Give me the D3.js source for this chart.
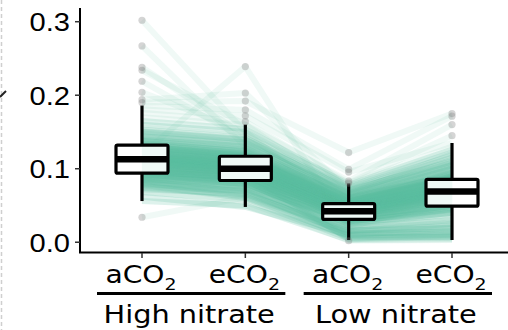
<!DOCTYPE html>
<html>
<head>
<meta charset="utf-8">
<script src="https://cdn.jsdelivr.net/npm/d3@7"></script>
<style>
  body { margin: 0; background: #fff; }
  svg { display: block; }
</style>
</head>
<body>
<svg id="chart" width="508" height="330"></svg>
<script>
// categories
const treatments = ["High_aCO2", "High_eCO2", "Low_aCO2", "Low_eCO2"];
const co2Labels = ["aCO", "eCO", "aCO", "eCO"];
const nitrateGroups = ["High nitrate", "Low nitrate"];
const nitrateMembers = [[0, 1], [2, 3]];
const yTicks = [0.0, 0.1, 0.2, 0.3];

// box stats
const whiskerLo = [0.056, 0.048, 0.003, 0.003];
const q1 = [0.094, 0.084, 0.031, 0.049];
const median = [0.113, 0.100, 0.042, 0.069];
const q3 = [0.132, 0.117, 0.0525, 0.0855];
const whiskerHi = [0.186, 0.160, 0.080, 0.135];
const outliers = [
  [0.034, 0.190, 0.194, 0.204, 0.219, 0.234, 0.238, 0.267, 0.302],
  [0.164, 0.172, 0.180, 0.192, 0.203, 0.239],
  [0.002, 0.0805, 0.083, 0.0955, 0.099, 0.122],
  [0.145, 0.160, 0.1715, 0.175]
];

// one row per sample: [High aCO2, High eCO2, Low aCO2, Low eCO2]
const samples = [
  [0.034, 0.061, 0.020, 0.030], [0.056, 0.050, 0.003, 0.004], [0.062, 0.048, 0.010, 0.012],
  [0.068, 0.058, 0.005, 0.008], [0.072, 0.066, 0.014, 0.020], [0.075, 0.070, 0.018, 0.026],
  [0.078, 0.062, 0.008, 0.006], [0.080, 0.074, 0.022, 0.034], [0.082, 0.072, 0.026, 0.040],
  [0.084, 0.068, 0.012, 0.015], [0.085, 0.078, 0.028, 0.045], [0.086, 0.080, 0.024, 0.038],
  [0.087, 0.076, 0.030, 0.050], [0.088, 0.083, 0.029, 0.042], [0.089, 0.082, 0.032, 0.055],
  [0.090, 0.085, 0.016, 0.022], [0.091, 0.081, 0.031, 0.047], [0.092, 0.086, 0.034, 0.052],
  [0.093, 0.079, 0.027, 0.044], [0.094, 0.088, 0.033, 0.058], [0.094, 0.084, 0.035, 0.049],
  [0.095, 0.090, 0.030, 0.048], [0.096, 0.087, 0.036, 0.060], [0.097, 0.089, 0.037, 0.054],
  [0.098, 0.092, 0.035, 0.062], [0.099, 0.091, 0.038, 0.057], [0.100, 0.093, 0.039, 0.063],
  [0.101, 0.094, 0.034, 0.059], [0.102, 0.095, 0.040, 0.065], [0.103, 0.096, 0.041, 0.066],
  [0.104, 0.094, 0.038, 0.061], [0.105, 0.098, 0.042, 0.068], [0.106, 0.097, 0.043, 0.070],
  [0.106, 0.099, 0.041, 0.064], [0.107, 0.100, 0.044, 0.071], [0.108, 0.101, 0.042, 0.069],
  [0.109, 0.099, 0.045, 0.072], [0.110, 0.102, 0.043, 0.067], [0.110, 0.103, 0.046, 0.074],
  [0.111, 0.100, 0.044, 0.070], [0.112, 0.104, 0.047, 0.073], [0.112, 0.105, 0.045, 0.075],
  [0.113, 0.101, 0.048, 0.076], [0.113, 0.106, 0.046, 0.071], [0.114, 0.107, 0.049, 0.077],
  [0.115, 0.103, 0.047, 0.078], [0.115, 0.108, 0.050, 0.079], [0.116, 0.109, 0.048, 0.074],
  [0.117, 0.106, 0.051, 0.080], [0.118, 0.110, 0.049, 0.081], [0.119, 0.111, 0.052, 0.082],
  [0.120, 0.108, 0.050, 0.078], [0.120, 0.239, 0.020, 0.060], [0.121, 0.112, 0.053, 0.083],
  [0.122, 0.113, 0.051, 0.084], [0.123, 0.114, 0.054, 0.085], [0.124, 0.112, 0.052, 0.086],
  [0.125, 0.115, 0.055, 0.087], [0.126, 0.116, 0.053, 0.088], [0.127, 0.117, 0.056, 0.089],
  [0.128, 0.118, 0.054, 0.090], [0.129, 0.119, 0.057, 0.086], [0.130, 0.120, 0.058, 0.092],
  [0.131, 0.117, 0.055, 0.094], [0.132, 0.122, 0.059, 0.095], [0.132, 0.121, 0.060, 0.091],
  [0.134, 0.124, 0.061, 0.097], [0.136, 0.123, 0.062, 0.099], [0.138, 0.126, 0.064, 0.102],
  [0.140, 0.128, 0.063, 0.100], [0.142, 0.130, 0.066, 0.105], [0.145, 0.133, 0.068, 0.108],
  [0.148, 0.136, 0.070, 0.112], [0.150, 0.139, 0.072, 0.115], [0.153, 0.142, 0.074, 0.118],
  [0.156, 0.145, 0.0805, 0.145], [0.160, 0.150, 0.076, 0.122], [0.165, 0.154, 0.078, 0.126],
  [0.170, 0.160, 0.083, 0.160], [0.176, 0.164, 0.080, 0.130], [0.181, 0.172, 0.0955, 0.135],
  [0.186, 0.180, 0.099, 0.1715], [0.190, 0.192, 0.122, 0.175], [0.194, 0.203, 0.070, 0.110],
  [0.204, 0.150, 0.060, 0.095], [0.219, 0.140, 0.058, 0.100], [0.234, 0.160, 0.066, 0.120],
  [0.238, 0.145, 0.062, 0.090], [0.267, 0.130, 0.050, 0.080], [0.302, 0.150, 0.040, 0.070],
  [0.070, 0.055, 0.002, 0.003],
  [0.096, 0.088, 0.038, 0.062], [0.099, 0.090, 0.036, 0.058], [0.101, 0.092, 0.040, 0.064],
  [0.103, 0.095, 0.037, 0.060], [0.104, 0.097, 0.042, 0.066], [0.105, 0.094, 0.039, 0.063],
  [0.107, 0.098, 0.043, 0.069], [0.108, 0.100, 0.041, 0.067], [0.109, 0.102, 0.044, 0.070],
  [0.111, 0.101, 0.046, 0.072], [0.112, 0.103, 0.043, 0.068], [0.114, 0.104, 0.047, 0.073],
  [0.115, 0.106, 0.045, 0.071], [0.116, 0.105, 0.048, 0.075], [0.117, 0.108, 0.049, 0.076],
  [0.118, 0.107, 0.046, 0.074], [0.119, 0.109, 0.050, 0.078], [0.121, 0.110, 0.051, 0.080],
  [0.122, 0.111, 0.049, 0.077], [0.124, 0.113, 0.052, 0.082], [0.126, 0.114, 0.053, 0.084],
  [0.128, 0.116, 0.055, 0.086], [0.130, 0.118, 0.056, 0.088], [0.100, 0.089, 0.033, 0.052],
  [0.098, 0.086, 0.031, 0.050], [0.092, 0.083, 0.028, 0.046], [0.088, 0.080, 0.025, 0.040],
  [0.134, 0.120, 0.058, 0.090], [0.137, 0.125, 0.060, 0.093], [0.085, 0.075, 0.020, 0.030],
  [0.083, 0.073, 0.015, 0.025], [0.079, 0.070, 0.010, 0.018], [0.095, 0.085, 0.006, 0.010],
  [0.110, 0.095, 0.004, 0.007],
  [0.144, 0.135, 0.065, 0.104], [0.151, 0.140, 0.071, 0.110], [0.139, 0.131, 0.067, 0.106],
  [0.074, 0.064, 0.012, 0.014], [0.081, 0.066, 0.016, 0.019], [0.077, 0.060, 0.009, 0.011]
];

const svg = d3.select("#chart");
const x = d3.scalePoint().domain(treatments).range([80, 514]).padding(0.6);
const y = d3.scaleLinear().domain([-0.0133, 0.3173]).range([252, 9]);
const boxW = 52;
const stretch = 1.12;

// bits of the neighbouring panel cut off at the left edge
svg.append("line")
  .attr("x1", 1.5).attr("x2", 1.5).attr("y1", 0).attr("y2", 330)
  .style("stroke", "#cfcfcf").style("stroke-width", 1.5).style("stroke-dasharray", "4,3");
svg.append("line")
  .attr("x1", 0).attr("y1", 97).attr("x2", 6).attr("y2", 91)
  .style("stroke", "#222").style("stroke-width", 2);

// a sample that is an outlier somewhere is a lone line, draw it fainter
const isOutlierRow = row => row.some((v, i) => v < whiskerLo[i] || v > whiskerHi[i]);

// spaghetti lines
const line = d3.line().x((d, i) => x(treatments[i])).y(d => y(d));
svg.append("g").attr("id", "sampleLines")
  .selectAll("path")
  .data(samples)
  .enter().append("path")
  .attr("d", line)
  .style("fill", "none")
  .style("stroke", "#5cbf9e")
  .style("stroke-opacity", d => isOutlierRow(d) ? 0.09 : 0.2)
  .style("stroke-width", 6)
  .style("stroke-linejoin", "round");

// boxes
const boxes = svg.append("g").selectAll("g")
  .data(treatments)
  .enter().append("g")
  .attr("transform", d => "translate(" + x(d) + ",0)");

boxes.append("line")
  .attr("y1", (d, i) => y(whiskerLo[i])).attr("y2", (d, i) => y(q1[i]))
  .style("stroke", "#000").style("stroke-width", 3.2);
boxes.append("line")
  .attr("y1", (d, i) => y(q3[i])).attr("y2", (d, i) => y(whiskerHi[i]))
  .style("stroke", "#000").style("stroke-width", 3.2);
boxes.append("rect")
  .attr("x", -boxW / 2).attr("width", boxW)
  .attr("y", (d, i) => y(q3[i]))
  .attr("height", (d, i) => y(q1[i]) - y(q3[i]))
  .attr("rx", 1.5)
  .style("fill", "#fff").style("fill-opacity", 0.9)
  .style("stroke", "#000").style("stroke-width", 3.2)
  .style("stroke-linejoin", "round");
boxes.append("line")
  .attr("x1", -boxW / 2).attr("x2", boxW / 2)
  .attr("y1", (d, i) => y(median[i])).attr("y2", (d, i) => y(median[i]))
  .style("stroke", "#000").style("stroke-width", 6.5);

// outlier points
boxes.selectAll("circle")
  .data((d, i) => outliers[i])
  .enter().append("circle")
  .attr("cy", d => y(d))
  .attr("r", 3.6)
  .style("fill", "#808080").style("fill-opacity", 0.33);

// axes
const axisG = svg.append("g");
axisG.append("line")
  .attr("x1", 80).attr("x2", 80).attr("y1", 8).attr("y2", 253)
  .style("stroke", "#000").style("stroke-width", 2);
axisG.append("line")
  .attr("x1", 79).attr("x2", 508).attr("y1", 252.5).attr("y2", 252.5)
  .style("stroke", "#000").style("stroke-width", 2);

axisG.selectAll(".ytick")
  .data(yTicks)
  .enter().append("line")
  .attr("class", "ytick")
  .attr("x1", 75).attr("x2", 80)
  .attr("y1", d => y(d)).attr("y2", d => y(d))
  .style("stroke", "#333").style("stroke-width", 1.5);

axisG.selectAll(".ylab")
  .data(yTicks)
  .enter().append("text")
  .attr("class", "ylab")
  .attr("transform", d => "translate(70," + (y(d) + 9.5) + ") scale(" + stretch + ",1)")
  .attr("text-anchor", "end")
  .style("font-family", "'Liberation Sans', Arial, sans-serif")
  .style("font-size", "26px")
  .style("fill", "#000")
  .text(d => d3.format(".1f")(d));

axisG.selectAll(".xtick")
  .data(treatments)
  .enter().append("line")
  .attr("class", "xtick")
  .attr("x1", d => x(d)).attr("x2", d => x(d))
  .attr("y1", 253).attr("y2", 258)
  .style("stroke", "#333").style("stroke-width", 1.5);

const xlab = axisG.selectAll(".xlab")
  .data(treatments)
  .enter().append("text")
  .attr("class", "xlab")
  .attr("transform", d => "translate(" + (x(d) - 1) + ",282.5) scale(1.15,1)")
  .attr("text-anchor", "middle")
  .style("font-family", "'DejaVu Sans', sans-serif")
  .style("font-size", "24.5px")
  .style("fill", "#000");
xlab.append("tspan").text((d, i) => co2Labels[i]);
xlab.append("tspan").attr("dy", 7.5).style("font-size", "16.5px").text("2");

// nitrate brackets
const groups = svg.append("g").selectAll("g")
  .data(nitrateGroups)
  .enter().append("g");
groups.append("line")
  .attr("x1", (d, i) => x(treatments[nitrateMembers[i][0]]) - 45)
  .attr("x2", (d, i) => x(treatments[nitrateMembers[i][1]]) + 40)
  .attr("y1", 293.5).attr("y2", 293.5)
  .style("stroke", "#000").style("stroke-width", 3);
groups.append("text")
  .attr("transform", (d, i) => {
    const cx = (x(treatments[nitrateMembers[i][0]]) - 45 + x(treatments[nitrateMembers[i][1]]) + 40) / 2;
    return "translate(" + (cx - 2) + ",322.5) scale(1.13,1)";
  })
  .attr("text-anchor", "middle")
  .style("font-family", "'DejaVu Sans', sans-serif")
  .style("font-size", "25.5px")
  .style("fill", "#000")
  .text(d => d);
</script>
</body>
</html>
